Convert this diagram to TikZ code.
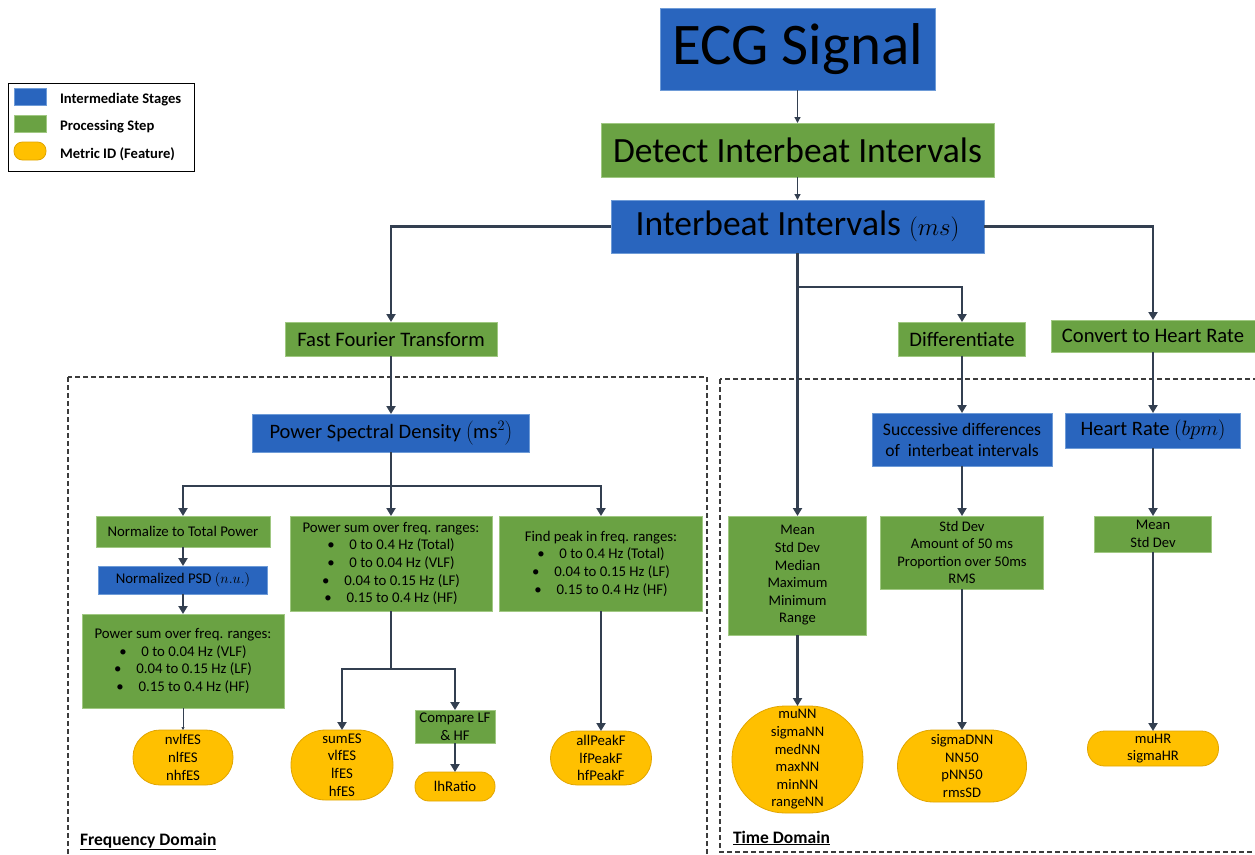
\documentclass[tikz,border=0pt]{standalone}
\usepackage{fontspec}
\setmainfont{Carlito}
\usetikzlibrary{arrows.meta}
\definecolor{bfill}{RGB}{41,101,190}
\definecolor{bline}{RGB}{110,155,215}
\definecolor{gfill}{RGB}{106,162,67}
\definecolor{gline}{RGB}{160,200,130}
\definecolor{ofill}{RGB}{255,192,0}
\definecolor{oline}{RGB}{225,165,0}
\definecolor{conn}{RGB}{51,63,80}
\definecolor{dashcol}{RGB}{60,60,60}
\tikzset{
  base/.style={inner sep=0pt, outer sep=0pt, align=center, text=black},
  bluebox/.style={base, fill=bfill, draw=bline, line width=0.8pt},
  greenbox/.style={base, fill=gfill, draw=gline, line width=0.8pt},
  metric/.style={base, fill=ofill, draw=oline, line width=0.8pt},
  fs/.style={font=\fontsize{14.8}{17.7}\selectfont},
  fm/.style={font=\fontsize{14.6}{17.6}\selectfont},
  fl/.style={font=\fontsize{20.6}{24}\selectfont},
  arr/.style={draw=conn, line width=2.4pt, -{Triangle[width=9pt,length=8pt]}},
  arrthin/.style={draw=conn, line width=1.3pt, -{Triangle[width=6pt,length=6pt]}},
  arrhair/.style={draw=conn, line width=0.7pt, -{Triangle[width=3pt,length=3pt]}},
  ln/.style={draw=conn, line width=2.4pt},
  dframe/.style={draw=dashcol, line width=1.2pt, dash pattern=on 5pt off 3pt},
}
\begin{document}
\begin{tikzpicture}[x=1pt,y=-1pt]
\useasboundingbox (0,0) rectangle (1255,854);
\fill[white] (0,0) rectangle (1255,854);

% domain frames
\draw[dframe] (68,377) rectangle (707,880);
\draw[dframe] (720,379) rectangle (1280,852);
\node[base, anchor=base west, font=\fontsize{17.5}{20}\selectfont\bfseries] (fdl) at (80,845) {\underline{Frequency Domain}};
\node[base, anchor=base west, font=\fontsize{17.5}{20}\selectfont\bfseries] (tdl) at (733,843) {\underline{Time Domain}};

% legend
\draw[black, line width=1pt] (8,83) rectangle (194,171);
\node[bluebox, minimum width=32pt, minimum height=17pt] (lg1) at (30,97) {};
\node[greenbox, minimum width=32pt, minimum height=17pt] (lg2) at (30,124) {};
\node[metric, minimum width=32pt, minimum height=18pt, rounded corners=8.5pt] (lg3) at (30,151) {};
\node[base, anchor=west, font=\fontsize{14.6}{17}\selectfont\bfseries] (lt1) at (60,100) {Intermediate Stages};
\node[base, anchor=west, font=\fontsize{14.6}{17}\selectfont\bfseries] (lt2) at (60,127) {Processing Step};
\node[base, anchor=west, font=\fontsize{14.6}{17}\selectfont\bfseries] (lt3) at (60,154) {Metric ID (Feature)};

% top chain
\node[bluebox, minimum width=275pt, minimum height=82pt, font=\fontsize{59}{62}\selectfont] (ecg) at (797.5,49) {\raisebox{-4pt}{ECG Signal}};
\node[greenbox, minimum width=393pt, minimum height=54pt, font=\fontsize{35.5}{38}\selectfont] (detect) at (797.5,150) {Detect Interbeat Intervals};
\node[bluebox, minimum width=373pt, minimum height=53pt, font=\fontsize{35.5}{38}\selectfont] (ibi) at (797.5,226.5) {Interbeat Intervals $(ms)$};

\node[greenbox, fl, minimum width=212pt, minimum height=34pt] (fft) at (391,339) {Fast Fourier Transform};
\node[greenbox, fl, minimum width=127pt, minimum height=34pt] (diff) at (962,339) {Differentiate};
\node[greenbox, fl, minimum width=204pt, minimum height=32pt] (conv) at (1153,336) {Convert to Heart Rate};

% frequency domain
\node[bluebox, font=\fontsize{20.5}{24}\selectfont, minimum width=277pt, minimum height=38pt] (psd) at (391,433) {Power Spectral Density $\left(\mathrm{ms}^2\right)$};
\node[greenbox, fs, minimum width=174pt, minimum height=31pt] (norm) at (183,531.5) {Normalize to Total Power};
\node[bluebox, fs, minimum width=169pt, minimum height=28pt] (npsd) at (183,580) {Normalized PSD $(n.u.)$};
\node[greenbox, fs, minimum width=202pt, minimum height=94pt] (ps1) at (183,661) {Power sum over freq. ranges:\\
\textbullet\quad 0 to 0.04 Hz (VLF)\\
\textbullet\quad 0.04 to 0.15 Hz (LF)\\
\textbullet\quad 0.15 to 0.4 Hz (HF)};
\node[metric, fs, minimum width=100pt, minimum height=55pt, rounded corners=27pt] (nvlf) at (183,757.5) {nvlfES\\nlfES\\nhfES};

\node[greenbox, fs, minimum width=202pt, minimum height=95pt] (ps2) at (391,563.5) {Power sum over freq. ranges:\\
\textbullet\quad 0 to 0.4 Hz (Total)\\
\textbullet\quad 0 to 0.04 Hz (VLF)\\
\textbullet\quad 0.04 to 0.15 Hz (LF)\\
\textbullet\quad 0.15 to 0.4 Hz (HF)};
\node[metric, fs, minimum width=102pt, minimum height=70pt, rounded corners=34.5pt] (sumes) at (342,765) {sumES\\vlfES\\lfES\\hfES};
\node[greenbox, fs, minimum width=80pt, minimum height=33pt] (cmp) at (455,726.5) {Compare LF\\\& HF};
\node[metric, fs, minimum width=80pt, minimum height=29pt, rounded corners=14pt] (lhr) at (455,786.5) {lhRatio};

\node[greenbox, fs, minimum width=203pt, minimum height=95pt] (peak) at (601,563.5) {Find peak in freq. ranges:\\
\textbullet\quad 0 to 0.4 Hz (Total)\\
\textbullet\quad 0.04 to 0.15 Hz (LF)\\
\textbullet\quad 0.15 to 0.4 Hz (HF)};
\node[metric, fs, minimum width=101pt, minimum height=54pt, rounded corners=26.5pt] (allpk) at (601,758) {allPeakF\\lfPeakF\\hfPeakF};

% time domain
\node[greenbox, fm, minimum width=138pt, minimum height=119pt] (mean) at (797.5,575.5) {Mean\\Std Dev\\Median\\Maximum\\Minimum\\Range};
\node[metric, fm, minimum width=131pt, minimum height=107pt, rounded corners=53pt] (munn) at (797.5,759.5) {muNN\\sigmaNN\\medNN\\maxNN\\minNN\\rangeNN};

\node[bluebox, font=\fontsize{17.6}{21}\selectfont, minimum width=180pt, minimum height=53pt] (sdiff) at (962,439.5) {Successive differences\\of\ \ interbeat intervals};
\node[greenbox, fm, minimum width=163pt, minimum height=73pt] (std) at (962,552.5) {Std Dev\\Amount of 50 ms\\Proportion over 50ms\\RMS};
\node[metric, fm, minimum width=129pt, minimum height=72pt, rounded corners=35.5pt] (sdnn) at (962,766) {sigmaDNN\\NN50\\pNN50\\rmsSD};

\node[bluebox, font=\fontsize{20.5}{24}\selectfont, minimum width=175pt, minimum height=35pt] (hr) at (1153,430.5) {Heart Rate $(bpm)$};
\node[greenbox, fm, minimum width=117pt, minimum height=36pt] (hrstat) at (1153,534) {Mean\\Std Dev};
\node[metric, fm, minimum width=131pt, minimum height=35pt, rounded corners=17pt] (muhr) at (1153,748.5) {muHR\\sigmaHR};

% junction coordinates
\coordinate (j1) at (797.5,287);
\coordinate (j2) at (391,486);
\coordinate (j3) at (391,669);

% connectors
\draw[arrthin] (ecg.south) -- (detect.north);
\draw[arrthin] (detect.south) -- (ibi.north);
\draw[arr] (ibi.west) -| (fft.north);
\draw[arr] (ibi.east) -| (conv.north);
\draw[arr] (ibi.south) -- (mean.north);
\draw[arr] (j1) -| (diff.north);

\draw[arr] (fft.south) -- (psd.north);
\draw[ln] (psd.south) -- (j2);
\draw[arr] (j2) -| (norm.north);
\draw[arr] (j2) -- (ps2.north);
\draw[arr] (j2) -| (peak.north);
\draw[arr] (norm.south) -- (npsd.north);
\draw[arr] (npsd.south) -- (ps1.north);
\draw[arrhair] (ps1.south) -- (nvlf.north);
\draw[ln] (ps2.south) -- (j3);
\draw[arr] (j3) -| (sumes.north);
\draw[arr] (j3) -| (cmp.north);
\draw[arr] (cmp.south) -- (lhr.north);
\draw[arr] (peak.south) -- (allpk.north);

\draw[arr] (mean.south) -- (munn.north);
\draw[arr] (diff.south) -- (sdiff.north);
\draw[arr] (sdiff.south) -- (std.north);
\draw[arr] (std.south) -- (sdnn.north);
\draw[arr] (conv.south) -- (hr.north);
\draw[arr] (hr.south) -- (hrstat.north);
\draw[arr] (hrstat.south) -- (muhr.north);
\end{tikzpicture}
\end{document}
